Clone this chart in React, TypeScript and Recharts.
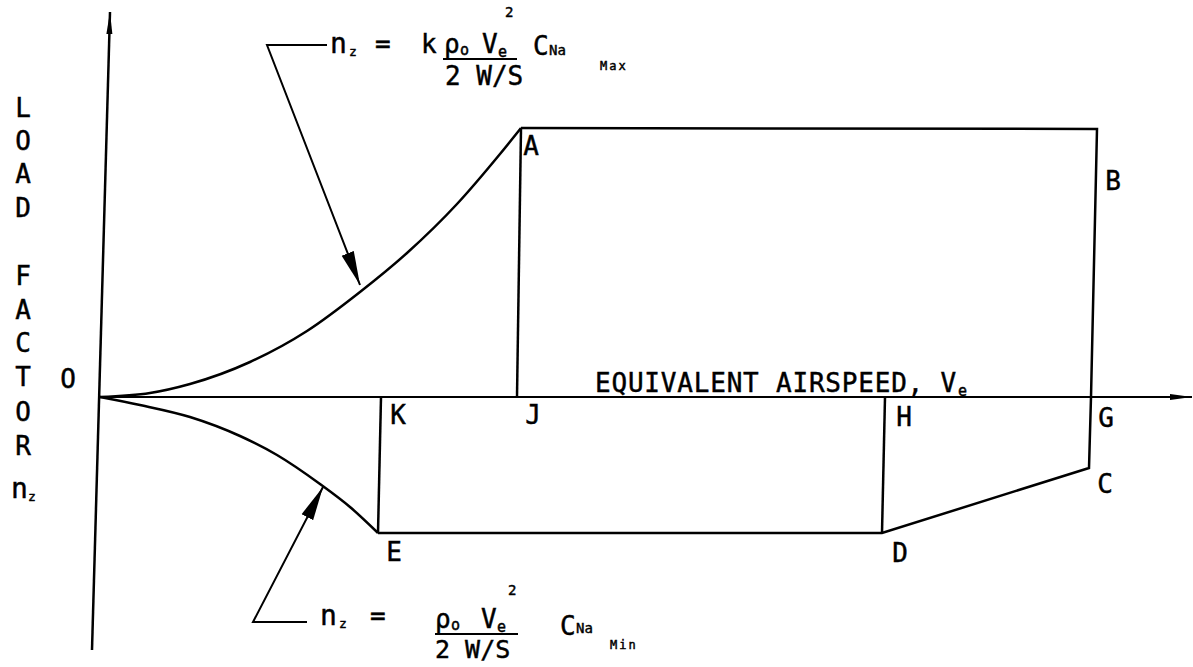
import React from 'react';
import { LineChart, Line, XAxis, YAxis, ReferenceDot } from 'recharts';

const W = 1193;
const H = 667;
const FONT = '"DejaVu Sans Mono", "Liberation Mono", monospace';

// Domain (arbitrary units: airspeed V, load factor n)
const vDomain = [-10, 109.3];
const nDomain = [-2.7, 3.97];

// Positive stall curve O -> A
const upperCurve = [
  { v: 0, n: 0 },
  { v: 5, n: 0.04 },
  { v: 9, n: 0.13 },
  { v: 15, n: 0.35 },
  { v: 20.7, n: 0.66 },
  { v: 26, n: 1.05 },
  { v: 30.7, n: 1.44 },
  { v: 35.7, n: 1.93 },
  { v: 40, n: 2.43 },
  { v: 42.1, n: 2.69 },
];

// Envelope A -> B -> G -> C -> D -> E
const envelopeEdge = [
  { v: 42.1, n: 2.69 },
  { v: 99.7, n: 2.68 },
  { v: 99.1, n: 0 },
  { v: 98.9, n: -0.71 },
  { v: 78.2, n: -1.36 },
  { v: 27.8, n: -1.36 },
];

// Negative stall curve O -> E
const lowerCurve = [
  { v: 0, n: 0 },
  { v: 4, n: -0.08 },
  { v: 9, n: -0.2 },
  { v: 14, n: -0.39 },
  { v: 17.7, n: -0.58 },
  { v: 22, n: -0.87 },
  { v: 25, n: -1.1 },
  { v: 27.8, n: -1.36 },
];

const lineAJ = [{ v: 42.1, n: 2.69 }, { v: 41.7, n: 0 }];
const lineKE = [{ v: 28.1, n: 0 }, { v: 27.8, n: -1.36 }];
const lineHD = [{ v: 78.5, n: 0 }, { v: 78.2, n: -1.36 }];

const xAxisLine = [{ v: 0, n: 0 }, { v: 109.2, n: 0 }];
const yAxisLine = [{ v: -0.8, n: -2.53 }, { v: 1.0, n: 3.85 }];

const upperLeader = [{ v: 22.7, n: 3.52 }, { v: 16.7, n: 3.52 }, { v: 26, n: 1.12 }];
const lowerLeader = [{ v: 20.7, n: -2.25 }, { v: 15.3, n: -2.25 }, { v: 22.3, n: -0.9 }];

// Point labels
const pointLabels = [
  { text: 'A', v: 43.1, n: 2.51 },
  { text: 'B', v: 101.3, n: 2.16 },
  { text: 'G', v: 100.6, n: -0.21 },
  { text: 'C', v: 100.5, n: -0.87 },
  { text: 'D', v: 80.0, n: -1.56 },
  { text: 'H', v: 80.4, n: -0.2 },
  { text: 'K', v: 29.8, n: -0.18 },
  { text: 'J', v: 43.3, n: -0.18 },
  { text: 'E', v: 29.4, n: -1.55 },
  { text: 'O', v: -3.2, n: 0.18 },
];

// Vertical y-axis title letters
const yTitleLetters = [
  { text: 'L', n: 2.89 },
  { text: 'O', n: 2.56 },
  { text: 'A', n: 2.23 },
  { text: 'D', n: 1.89 },
  { text: 'F', n: 1.21 },
  { text: 'A', n: 0.87 },
  { text: 'C', n: 0.54 },
  { text: 'T', n: 0.2 },
  { text: 'O', n: -0.15 },
  { text: 'R', n: -0.49 },
];
const yTitleV = -7.7;
const yTitleSymbol = { v: -7.7, n: -0.95 };

const xTitle = { text: 'EQUIVALENT AIRSPEED, V', sub: 'e', v: 49.5, n: 0.05 };

const upperFormulaAnchor = { v: 23.0, n: 3.44 };
const lowerFormulaAnchor = { v: 22.0, n: -2.28 };

const T = (props: any) => (
  <text fontFamily={FONT} fill="#000" stroke="#000" strokeWidth={0.45} {...props} />
);

const simpleLabel = (text: string, size = 26) => (p: any) => (
  <T x={p.cx} y={p.cy} fontSize={size} textAnchor="middle" dominantBaseline="central">
    {text}
  </T>
);

const nzSymbol = (p: any) => (
  <g transform={`translate(${p.cx},${p.cy})`}>
    <T x={-12} y={6} fontSize={28}>n</T>
    <T x={5} y={9} fontSize={13}>z</T>
  </g>
);

const xTitleShape = (p: any) => (
  <g transform={`translate(${p.cx},${p.cy})`}>
    <T x={0} y={0} fontSize={26} letterSpacing={0.8}>
      {xTitle.text}
    </T>
    <T x={363} y={4} fontSize={15}>{xTitle.sub}</T>
  </g>
);

const upperFormula = (p: any) => (
  <g transform={`translate(${p.cx},${p.cy})`}>
    <T x={0} y={0} fontSize={28}>n</T>
    <T x={19} y={3} fontSize={13}>z</T>
    <T x={45} y={0} fontSize={26}>=</T>
    <T x={91} y={0} fontSize={26}>k</T>
    <T x={114} y={0} fontSize={26}>ρ</T>
    <T x={130} y={2} fontSize={15}>o</T>
    <T x={152} y={0} fontSize={26}>V</T>
    <T x={168} y={4} fontSize={15}>e</T>
    <T x={175} y={-36} fontSize={14}>2</T>
    <line x1={113} x2={187} y1={6} y2={6} stroke="#000" strokeWidth={1.8} />
    <T x={115} y={32} fontSize={26}>2 W/S</T>
    <T x={203} y={2} fontSize={26}>C</T>
    <T x={219} y={2} fontSize={14}>Na</T>
    <T x={270} y={17} fontSize={12} letterSpacing={2}>Max</T>
  </g>
);

const lowerFormula = (p: any) => (
  <g transform={`translate(${p.cx},${p.cy})`}>
    <T x={0} y={0} fontSize={28}>n</T>
    <T x={19} y={3} fontSize={13}>z</T>
    <T x={50} y={0} fontSize={26}>=</T>
    <T x={115} y={3} fontSize={26}>ρ</T>
    <T x={131} y={5} fontSize={15}>o</T>
    <T x={161} y={3} fontSize={26}>V</T>
    <T x={177} y={7} fontSize={15}>e</T>
    <T x={188} y={-30} fontSize={14}>2</T>
    <line x1={115} x2={198} y1={9} y2={9} stroke="#000" strokeWidth={1.8} />
    <T x={115} y={33} fontSize={25}>2 W/S</T>
    <T x={240} y={10} fontSize={26}>C</T>
    <T x={256} y={8} fontSize={14}>Na</T>
    <T x={290} y={24} fontSize={12} letterSpacing={2}>Min</T>
  </g>
);

const lineCommon = {
  dataKey: 'n',
  stroke: '#000',
  dot: false,
  activeDot: false,
  isAnimationActive: false,
  legendType: 'none' as const,
};

export default function App() {
  return (
    <div style={{ position: 'absolute', left: 0, top: 0, width: W, height: H, background: '#fff' }}>
      <svg width={0} height={0} style={{ position: 'absolute' }}>
        <defs>
          <marker id="leaderHead" markerUnits="userSpaceOnUse" markerWidth={36} markerHeight={14}
            refX={34} refY={7} orient="auto" viewBox="0 0 36 14">
            <path d="M0,0.5 L34,7 L0,13.5 Z" fill="#000" />
          </marker>
          <marker id="axisHead" markerUnits="userSpaceOnUse" markerWidth={24} markerHeight={8}
            refX={22} refY={4} orient="auto" viewBox="0 0 24 8">
            <path d="M0,1 L22,4 L0,7 Z" fill="#000" />
          </marker>
        </defs>
      </svg>
      <LineChart width={W} height={H} margin={{ top: 0, right: 0, bottom: 0, left: 0 }}>
        <XAxis hide type="number" dataKey="v" domain={vDomain} allowDataOverflow />
        <YAxis hide type="number" domain={nDomain} allowDataOverflow />

        <Line {...lineCommon} data={xAxisLine} type="linear" strokeWidth={2} markerEnd="url(#axisHead)" />
        <Line {...lineCommon} data={yAxisLine} type="linear" strokeWidth={2.5} markerEnd="url(#axisHead)" />

        <Line {...lineCommon} data={upperCurve} type="monotone" strokeWidth={2.5} />
        <Line {...lineCommon} data={envelopeEdge} type="linear" strokeWidth={2.5} />
        <Line {...lineCommon} data={lowerCurve} type="monotone" strokeWidth={2.5} />
        <Line {...lineCommon} data={lineAJ} type="linear" strokeWidth={2.5} />
        <Line {...lineCommon} data={lineKE} type="linear" strokeWidth={2.5} />
        <Line {...lineCommon} data={lineHD} type="linear" strokeWidth={2.5} />

        <Line {...lineCommon} data={upperLeader} type="linear" strokeWidth={2} markerEnd="url(#leaderHead)" />
        <Line {...lineCommon} data={lowerLeader} type="linear" strokeWidth={2} markerEnd="url(#leaderHead)" />

        {pointLabels.map((l, i) => (
          <ReferenceDot key={'p' + i} x={l.v} y={l.n} r={0} ifOverflow="visible" shape={simpleLabel(l.text)} />
        ))}
        {yTitleLetters.map((l, i) => (
          <ReferenceDot key={'y' + i} x={yTitleV} y={l.n} r={0} ifOverflow="visible" shape={simpleLabel(l.text)} />
        ))}
        <ReferenceDot x={yTitleSymbol.v} y={yTitleSymbol.n} r={0} ifOverflow="visible" shape={nzSymbol} />
        <ReferenceDot x={xTitle.v} y={xTitle.n} r={0} ifOverflow="visible" shape={xTitleShape} />
        <ReferenceDot x={upperFormulaAnchor.v} y={upperFormulaAnchor.n} r={0} ifOverflow="visible" shape={upperFormula} />
        <ReferenceDot x={lowerFormulaAnchor.v} y={lowerFormulaAnchor.n} r={0} ifOverflow="visible" shape={lowerFormula} />
      </LineChart>
    </div>
  );
}
